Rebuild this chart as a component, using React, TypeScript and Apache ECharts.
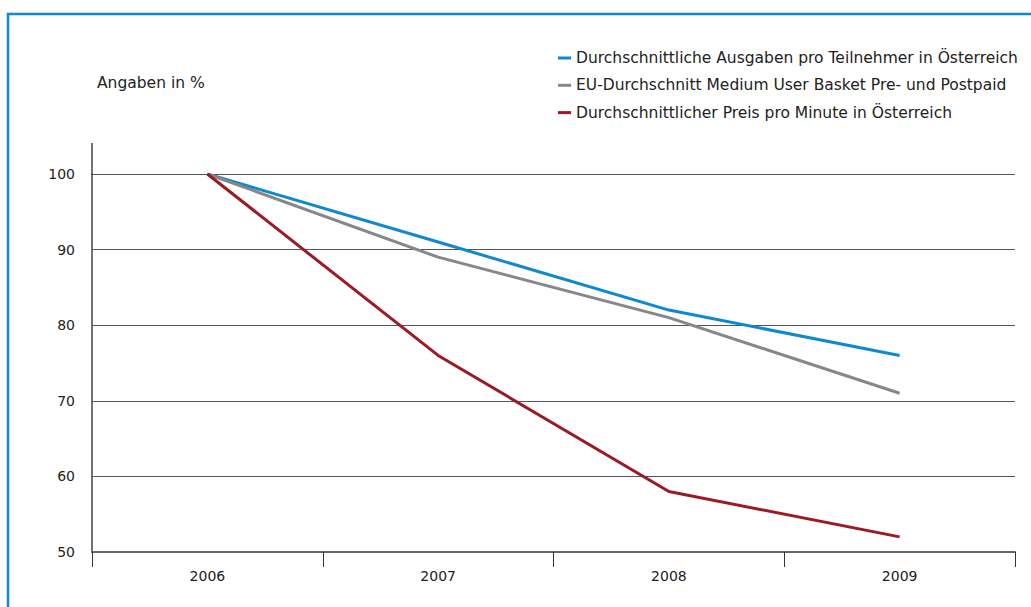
import React, { useEffect, useRef } from "react";
import * as echarts from "echarts";

const years = ["2006", "2007", "2008", "2009"];
const ausgabenAT = [100, 91, 82, 76];
const euSchnitt = [100, 89, 81, 71];
const preisMinuteAT = [100, 76, 58, 52];
const seriesNames = [
  "Durchschnittliche Ausgaben pro Teilnehmer in Österreich",
  "EU-Durchschnitt Medium User Basket Pre- und Postpaid",
  "Durchschnittlicher Preis pro Minute in Österreich",
];
const unitLabel = "Angaben in %";

const FONT = "DejaVu Sans";

export default function App() {
  const ref = useRef<HTMLDivElement>(null);
  useEffect(() => {
    if (!ref.current) return;
    const chart = echarts.init(ref.current, null, { renderer: "svg" });
    const colors = ["#1088cf", "#878787", "#9b1a24"];
    chart.setOption({
      animation: false,
      backgroundColor: "#ffffff",
      textStyle: { fontFamily: FONT },
      grid: { left: 92, right: 16, top: 174, bottom: 55 },
      legend: {
        orient: "vertical",
        left: 553,
        top: 45,
        itemWidth: 13,
        itemHeight: 3,
        itemGap: 11.3,
        icon: "rect",
        data: seriesNames,
        textStyle: { fontFamily: FONT, fontSize: 15.5, color: "#222" },
      },
      xAxis: {
        type: "category",
        data: years,
        boundaryGap: true,
        axisLine: { lineStyle: { color: "#666", width: 2 } },
        axisTick: { show: true, length: 15, lineStyle: { color: "#333", width: 1 } },
        axisLabel: { fontFamily: FONT, fontSize: 14, color: "#222", margin: 17 },
      },
      yAxis: {
        type: "value",
        min: 50,
        max: 100,
        interval: 10,
        axisLine: { show: true, lineStyle: { color: "#444", width: 1.5 } },
        axisTick: { show: false },
        axisLabel: { fontFamily: FONT, fontSize: 14, color: "#222", margin: 17 },
        splitLine: { lineStyle: { color: "#555", width: 1 } },
      },
      graphic: [
        {
          type: "line",
          shape: { x1: 92, y1: 143, x2: 92, y2: 175 },
          style: { stroke: "#444", lineWidth: 1.5 },
        },
        {
          type: "rect",
          shape: { x: 8, y: 14, width: 1100, height: 700 },
          style: { fill: "none", stroke: "#0a8bd2", lineWidth: 2.5 },
        },
        {
          type: "text",
          left: 97,
          top: 75,
          style: { text: unitLabel, fontFamily: FONT, fontSize: 15.5, fill: "#222" },
        },
      ],
      series: [
        { name: seriesNames[0], data: ausgabenAT, color: colors[0] },
        { name: seriesNames[1], data: euSchnitt, color: colors[1] },
        { name: seriesNames[2], data: preisMinuteAT, color: colors[2] },
      ].map((s) => ({
        ...s,
        type: "line",
        symbol: "none",
        lineStyle: { width: 3, color: s.color },
        itemStyle: { color: s.color },
      })),
    });
    return () => chart.dispose();
  }, []);
  return (
    <div
      ref={ref}
      style={{ position: "absolute", left: 0, top: 0, width: 1031, height: 607 }}
    />
  );
}
